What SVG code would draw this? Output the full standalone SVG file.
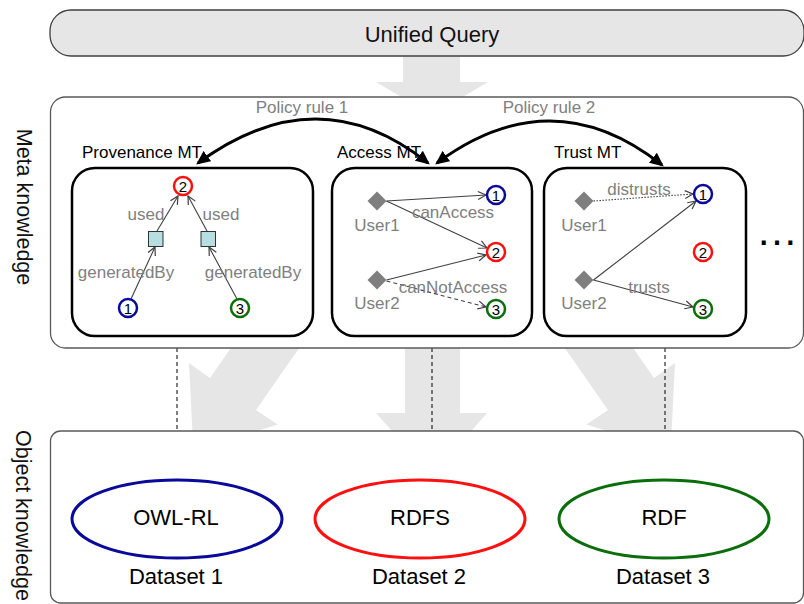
<svg xmlns="http://www.w3.org/2000/svg" width="804" height="604" viewBox="0 0 804 604">
<style>
text{font-family:"Liberation Sans",Arial,sans-serif}
.big{fill:#e6e6e6}
.lbl{font-size:17px;fill:#808080}
.mt{font-size:17px;fill:#000}
.mtbox{fill:#fff;stroke:#000;stroke-width:2.5}
.num{font-size:15px;fill:#000;text-anchor:middle}
.cb{fill:#fff;stroke:#0a0a9a;stroke-width:2.5}
.cr{fill:#fff;stroke:#ff1010;stroke-width:2.5}
.cg{fill:#fff;stroke:#0a6e0a;stroke-width:2.5}
.dia{fill:#7f7f7f}
.sq{fill:#b7dee0;stroke:#333;stroke-width:1}
.edge{fill:none;stroke:#404040;stroke-width:1.1;marker-end:url(#open)}
.rule{fill:none;stroke:#000;stroke-width:3;marker-start:url(#solid);marker-end:url(#solid)}
.dash{stroke:#000;stroke-width:1;stroke-dasharray:4 3}
.ds{font-size:22px;fill:#000;text-anchor:middle}
</style>
<defs>
<marker id="open" viewBox="0 0 10 10" refX="9" refY="5" markerWidth="10" markerHeight="10" markerUnits="userSpaceOnUse" orient="auto">
<path d="M1,1 L9,5 L1,9" fill="none" stroke="#404040" stroke-width="1.2"/>
</marker>
<marker id="solid" viewBox="0 0 12 12" refX="10" refY="6" markerWidth="14" markerHeight="14" markerUnits="userSpaceOnUse" orient="auto-start-reverse">
<path d="M0,0.5 L12,6 L0,11.5 Z" fill="#000"/>
</marker>
</defs>
<rect width="804" height="604" fill="#fff"/>

<!-- big gray flow arrows -->
<g id="flow-arrows">
<polygon class="big" points="403,50 460,50 460,82 488,82 432,115 376,82 403,82"/>
<polygon class="big" points="405,340 460,340 460,413 487,413 432,476 376,413 405,413"/>
<polygon class="big" points="255.6,312.4 301.6,344.4 256,410 277.6,424.6 193.4,451 189,363 210,378"/>
<polygon class="big" points="608.4,312.4 562.4,344.4 608,410 586.4,424.6 670.6,451 675,363 654,378"/>
</g>

<g id="unified-query">
<rect x="50" y="10" width="754" height="46" rx="21" fill="#e6e6e6" stroke="#404040" stroke-width="1.3"/>
<text x="432" y="42" font-size="22" text-anchor="middle" fill="#111">Unified Query</text>
</g>

<g id="dashed-links">
<line class="dash" x1="177" y1="348" x2="177" y2="431"/>
<line class="dash" x1="432" y1="348" x2="432" y2="431"/>
<line class="dash" x1="665" y1="348" x2="665" y2="431"/>
</g>

<g id="meta-knowledge">
<rect x="50.5" y="97" width="753" height="251" rx="15" fill="#fff" stroke="#595959" stroke-width="1.3"/>
<text transform="translate(17,207) rotate(90)" font-size="21.5" text-anchor="middle" fill="#111">Meta knowledge</text>
</g>

<g id="object-knowledge">
<rect x="50.5" y="431" width="753" height="172" rx="10" fill="#fff" stroke="#595959" stroke-width="1.3"/>
<text transform="translate(16,430) rotate(90)" font-size="21.5" fill="#111">Object knowledge</text>
</g>

<g id="provenance-mt">
<text class="mt" x="82" y="158">Provenance MT</text>
<rect class="mtbox" x="72" y="168" width="241" height="168" rx="23"/>
</g>
<g id="access-mt">
<text class="mt" x="337" y="158">Access MT</text>
<rect class="mtbox" x="332" y="168" width="200" height="168" rx="23"/>
</g>
<g id="trust-mt">
<text class="mt" x="554" y="158">Trust MT</text>
<rect class="mtbox" x="544" y="168" width="202" height="168" rx="23"/>
</g>

<g id="connectors">
<path class="rule" d="M198,163 Q318,75 428,163"/>
<path class="rule" d="M437,163 Q552,78 662,165"/>
<text class="lbl" x="302" y="113" text-anchor="middle">Policy rule 1</text>
<text class="lbl" x="549" y="113" text-anchor="middle">Policy rule 2</text>

<path class="edge" d="M131,299 L155,247"/>
<path class="edge" d="M157,231 L178,196"/>
<path class="edge" d="M237,299 L209,247"/>
<path class="edge" d="M207,231 L188,196"/>
<text class="lbl" x="146" y="220" text-anchor="middle">used</text>
<text class="lbl" x="221" y="220" text-anchor="middle">used</text>
<text class="lbl" x="126" y="278" text-anchor="middle">generatedBy</text>
<text class="lbl" x="253" y="278" text-anchor="middle">generatedBy</text>

<path class="edge" d="M386.5,201 L486,195"/>
<path class="edge" d="M386.5,201 L487,248"/>
<path class="edge" d="M386.5,280 L486,255"/>
<path class="edge" d="M386.5,281 L486,307" stroke-dasharray="4 3"/>
<text class="lbl" x="453" y="218" text-anchor="middle" font-size="18">canAccess</text>
<text class="lbl" x="453" y="293" text-anchor="middle" font-size="18">canNotAccess</text>

<path class="edge" d="M593.5,201 L693,194" stroke-dasharray="1.5 1.5"/>
<path class="edge" d="M593.5,280 L696,201"/>
<path class="edge" d="M593.5,280 L693,307"/>
<text class="lbl" x="639" y="195" text-anchor="middle">distrusts</text>
<text class="lbl" x="649" y="293" text-anchor="middle">trusts</text>
</g>

<g id="prov-nodes">
<g id="prov-2"><circle class="cr" cx="183" cy="186" r="9"/><text class="num" x="183" y="191.5">2</text></g>
<g id="prov-act1"><rect class="sq" x="148.5" y="231.5" width="14.5" height="15"/></g>
<g id="prov-act2"><rect class="sq" x="201" y="231.5" width="14.5" height="15"/></g>
<g id="prov-1"><circle class="cb" cx="128" cy="308" r="9"/><text class="num" x="128" y="313.5">1</text></g>
<g id="prov-3"><circle class="cg" cx="240" cy="308" r="9"/><text class="num" x="240" y="313.5">3</text></g>
</g>

<g id="access-nodes">
<g id="acc-user1"><polygon class="dia" points="377,191.5 386.5,201 377,210.5 367.5,201"/><text class="lbl" x="377" y="231" text-anchor="middle">User1</text></g>
<g id="acc-user2"><polygon class="dia" points="377,270.5 386.5,280 377,289.5 367.5,280"/><text class="lbl" x="377" y="309" text-anchor="middle">User2</text></g>
<g id="acc-1"><circle class="cb" cx="496" cy="195" r="9"/><text class="num" x="496" y="200.5">1</text></g>
<g id="acc-2"><circle class="cr" cx="496" cy="252" r="9"/><text class="num" x="496" y="257.5">2</text></g>
<g id="acc-3"><circle class="cg" cx="496" cy="309" r="9"/><text class="num" x="496" y="314.5">3</text></g>
</g>

<g id="trust-nodes">
<g id="tr-user1"><polygon class="dia" points="584,191.5 593.5,201 584,210.5 574.5,201"/><text class="lbl" x="584" y="231" text-anchor="middle">User1</text></g>
<g id="tr-user2"><polygon class="dia" points="584,270.5 593.5,280 584,289.5 574.5,280"/><text class="lbl" x="584" y="309" text-anchor="middle">User2</text></g>
<g id="tr-1"><circle class="cb" cx="703" cy="194" r="9"/><text class="num" x="703" y="199.5">1</text></g>
<g id="tr-2"><circle class="cr" cx="703" cy="252" r="9"/><text class="num" x="703" y="257.5">2</text></g>
<g id="tr-3"><circle class="cg" cx="703" cy="309" r="9"/><text class="num" x="703" y="314.5">3</text></g>
</g>

<g id="more"><text x="777" y="245" font-size="42" text-anchor="middle" fill="#000">…</text></g>

<g id="dataset1">
<ellipse cx="177" cy="519" rx="105" ry="39" fill="#fff" stroke="#0a0a9a" stroke-width="3"/>
<text class="ds" x="176" y="525">OWL-RL</text>
<text class="ds" x="176" y="584">Dataset 1</text>
</g>
<g id="dataset2">
<ellipse cx="420" cy="519" rx="105" ry="39" fill="#fff" stroke="#ff1010" stroke-width="3"/>
<text class="ds" x="420" y="525">RDFS</text>
<text class="ds" x="419" y="584">Dataset 2</text>
</g>
<g id="dataset3">
<ellipse cx="664" cy="519" rx="105" ry="39" fill="#fff" stroke="#0a6e0a" stroke-width="3"/>
<text class="ds" x="664" y="525">RDF</text>
<text class="ds" x="663" y="584">Dataset 3</text>
</g>
</svg>
